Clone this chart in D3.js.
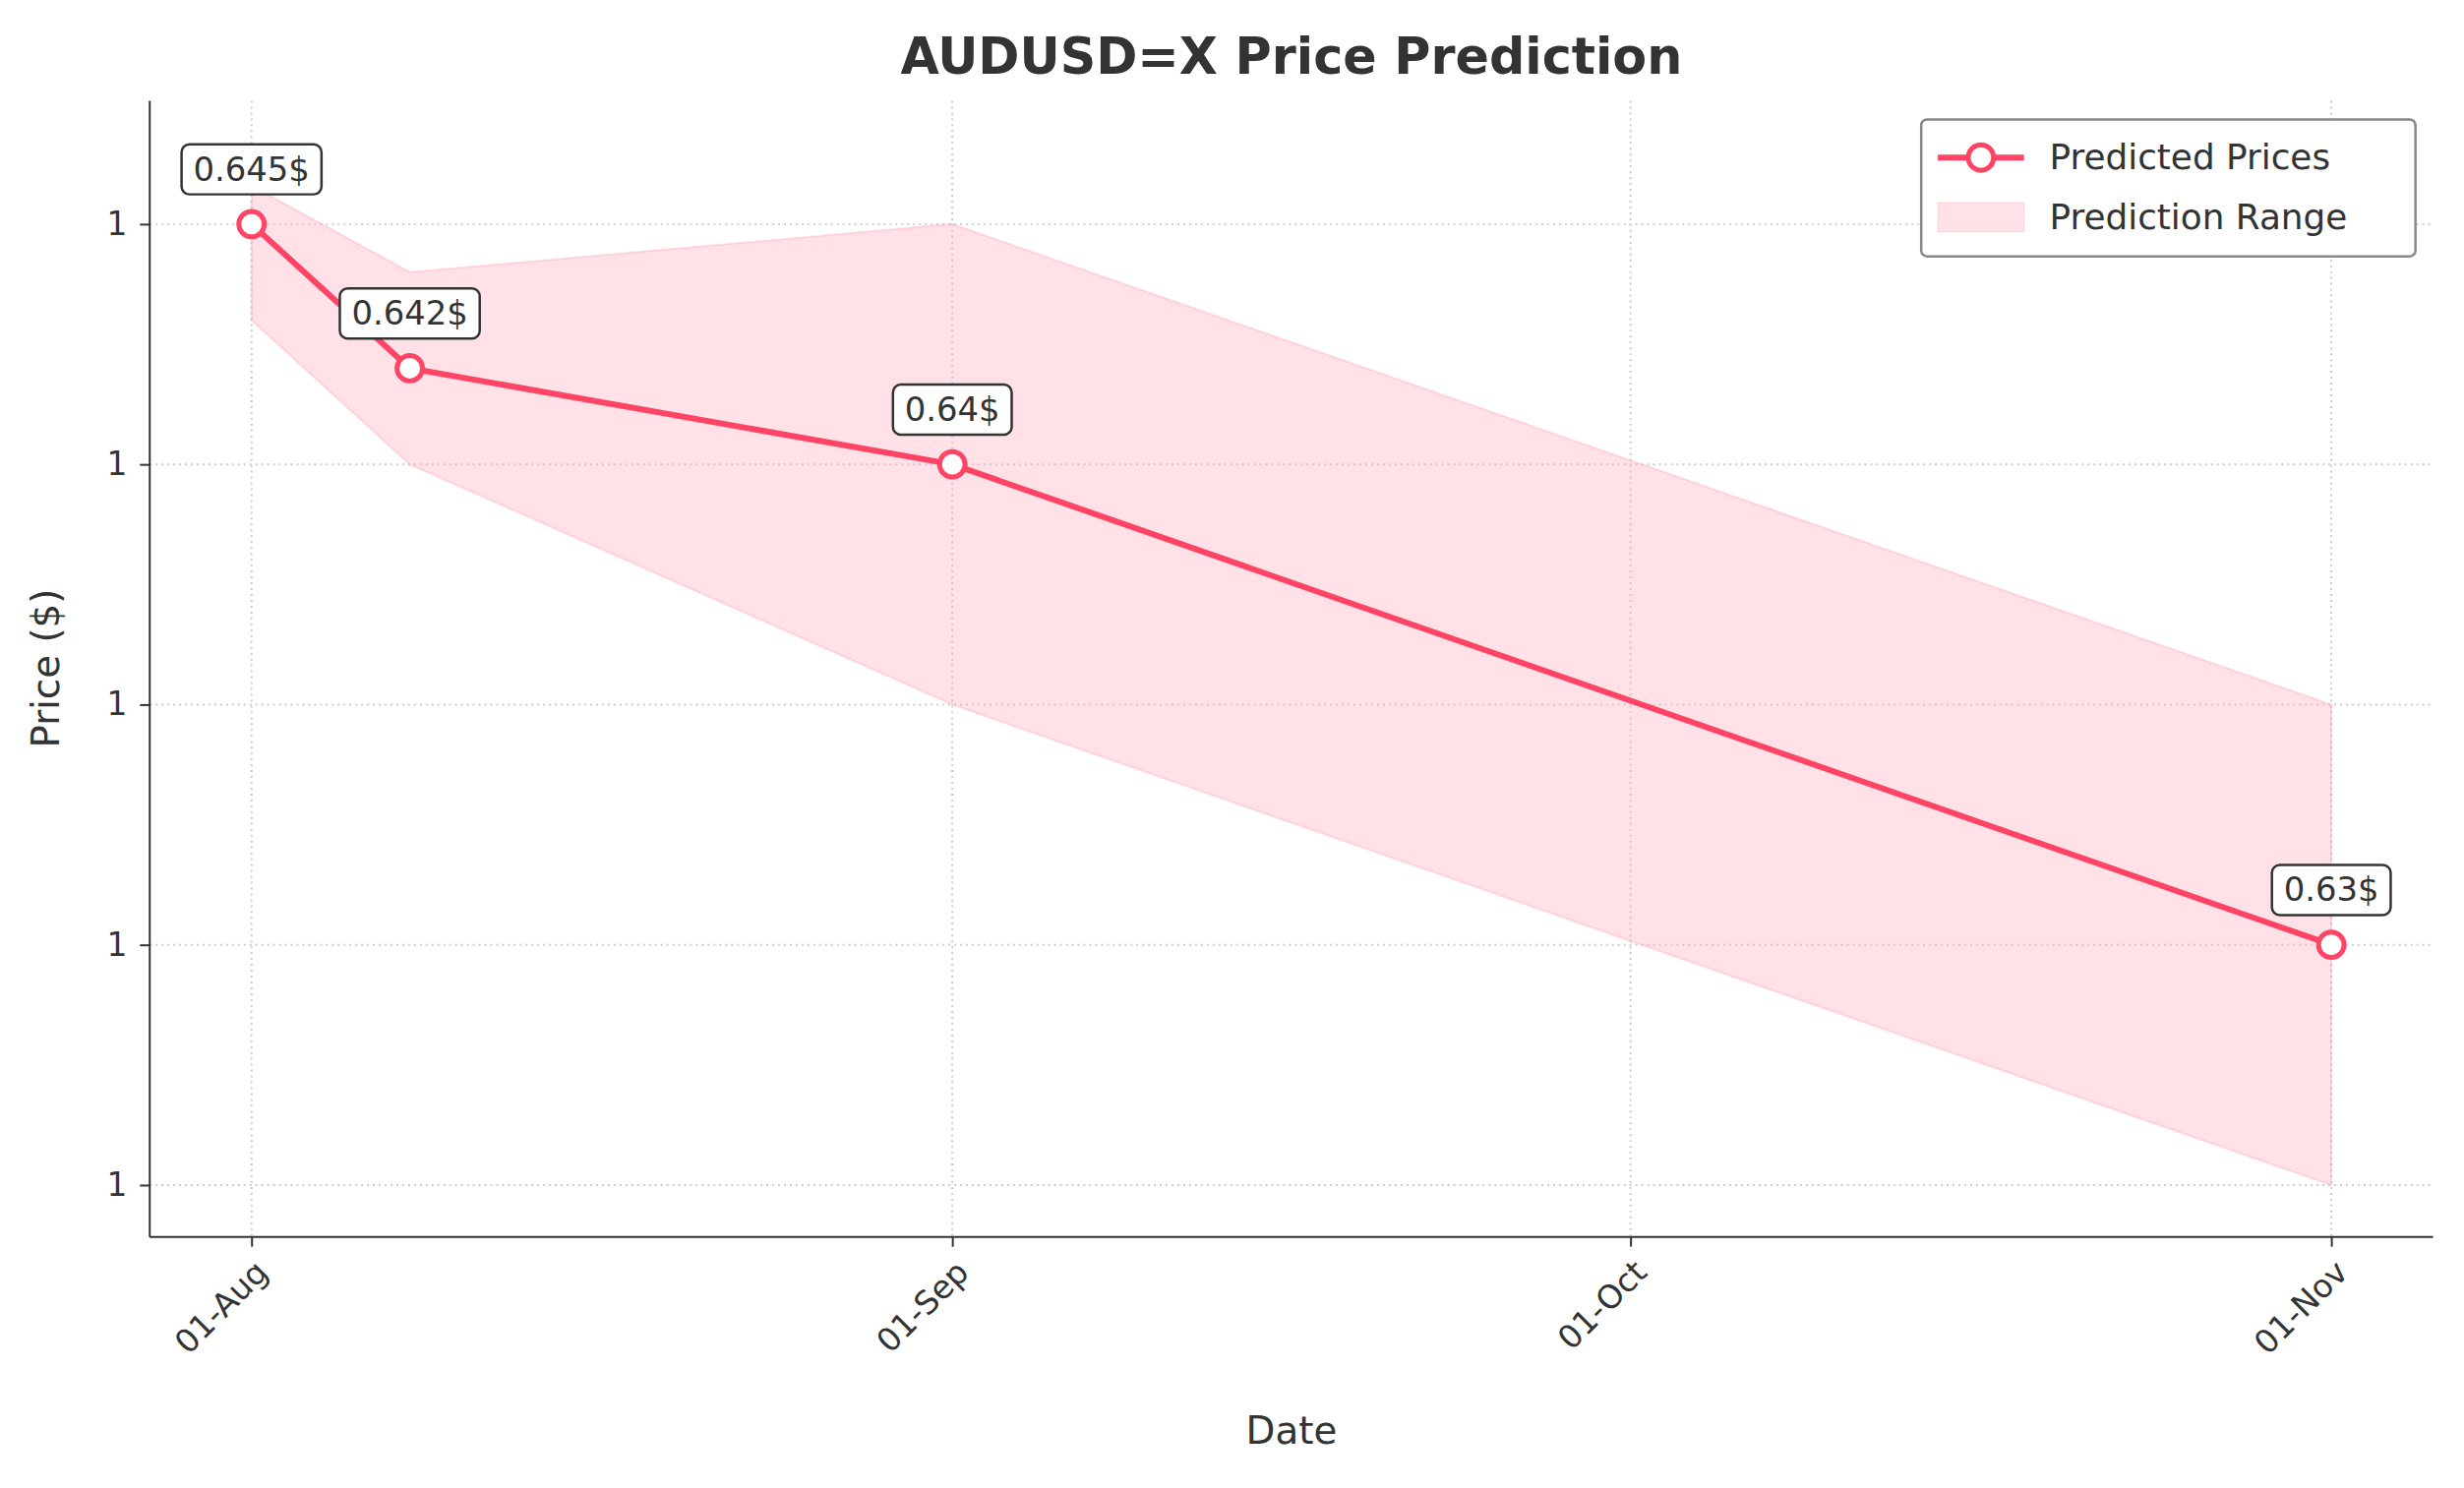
<!DOCTYPE html>
<html><head><meta charset="utf-8">
<script src="https://cdn.jsdelivr.net/npm/d3@7"></script>
<style>body{margin:0;background:#fff}text{font-family:"DejaVu Sans",sans-serif;fill:#333}</style>
</head><body><svg id="c" width="2505" height="1513"></svg>
<script>
const dates=["2024-08-01","2024-08-08","2024-09-01","2024-11-01"];
const predicted=[0.645,0.642,0.640,0.630];
const upper=[0.6458,0.6440,0.6450,0.6350];
const lower=[0.6430,0.6400,0.6350,0.6250];
const xTickDates=["2024-08-01","2024-09-01","2024-10-01","2024-11-01"];
const yTicks=[0.625,0.630,0.635,0.640,0.645];
const labels=["0.645$","0.642$","0.64$","0.63$"];

const P=d3.timeParse("%Y-%m-%d");
const svg=d3.select("#c").append("g").attr("transform","translate(0,3) scale(0.995)");
const L=153,R=2486,T=100,B=1261;
const x=d3.scaleTime().domain([P("2024-08-01"),P("2024-11-01")]).range([257,2382]);
const y=d3.scaleLinear().domain([0.645,0.625]).range([226,1208]);
const col="#ff4466";
const g=svg.append("g");
xTickDates.forEach(d=>g.append("line").attr("x1",x(P(d))).attr("x2",x(P(d))).attr("y1",T).attr("y2",B).attr("stroke","#ccc").attr("stroke-width",2).attr("stroke-dasharray","2,4"));
yTicks.forEach(v=>g.append("line").attr("x1",L).attr("x2",R).attr("y1",y(v)).attr("y2",y(v)).attr("stroke","#ccc").attr("stroke-width",2).attr("stroke-dasharray","2,4"));
const data=dates.map((d,i)=>({d:P(d),p:predicted[i],u:upper[i],l:lower[i]}));
svg.append("path").datum(data).attr("d",d3.area().x(d=>x(d.d)).y0(d=>y(d.l)).y1(d=>y(d.u))).attr("fill","rgba(255,170,185,0.35)").attr("stroke","rgba(255,150,170,0.3)").attr("stroke-width",2);
svg.append("path").datum(data).attr("d",d3.line().x(d=>x(d.d)).y(d=>y(d.p))).attr("fill","none").attr("stroke",col).attr("stroke-width",6);
svg.selectAll("circle.p").data(data).enter().append("circle").attr("cx",d=>x(d.d)).attr("cy",d=>y(d.p)).attr("r",13).attr("fill","#fff").attr("stroke",col).attr("stroke-width",5);
data.forEach((d,i)=>{
  const cx=x(d.d),cy=y(d.p)-56;
  const t=svg.append("text").attr("x",cx).attr("y",cy).attr("text-anchor","middle").attr("dominant-baseline","central").attr("font-size",34).text(labels[i]);
  const bb=t.node().getBBox();
  svg.insert("rect","text:last-child").attr("x",bb.x-12).attr("y",bb.y-6).attr("width",bb.width+24).attr("height",bb.height+12).attr("rx",8).attr("fill","#fff").attr("stroke","#333").attr("stroke-width",2.5);
  t.raise();
});
svg.append("g").attr("transform",`translate(0,${B})`).call(d3.axisBottom(x).tickValues(xTickDates.map(P)).tickFormat(d3.timeFormat("%d-%b")).tickSize(10).tickSizeOuter(0))
 .call(a=>{a.select(".domain").attr("stroke","#333").attr("stroke-width",2).attr("d",`M${L},0H${R}`);a.selectAll(".tick line").attr("stroke","#333").attr("stroke-width",2);
 a.selectAll("text").attr("font-size",33).attr("text-anchor","end").attr("x",10).attr("y",30).attr("dy","0.35em").attr("transform","rotate(-45,10,30)").style("fill","#333");});
svg.append("g").attr("transform",`translate(${L},0)`).call(d3.axisLeft(y).tickValues(yTicks).tickFormat(d3.format(".0f")).tickSize(10).tickSizeOuter(0))
 .call(a=>{a.select(".domain").attr("stroke","#333").attr("stroke-width",2).attr("d",`M0,${T}V${B}`);a.selectAll(".tick line").attr("stroke","#333").attr("stroke-width",2);
 a.selectAll("text").attr("font-size",33).attr("dx","-0.3em").style("fill","#333");});
svg.append("text").attr("x",(L+R)/2).attr("y",72).attr("text-anchor","middle").attr("font-size",51).attr("font-weight","bold").text("AUDUSD=X Price Prediction");
svg.append("text").attr("x",(L+R)/2).attr("y",1472).attr("text-anchor","middle").attr("font-size",39).text("Date");
svg.append("text").attr("transform","translate(60,680) rotate(-90)").attr("text-anchor","middle").attr("font-size",39).text("Price ($)");
const lg=svg.append("g");
lg.append("rect").attr("x",1963).attr("y",119).attr("width",505).attr("height",140).attr("rx",6).attr("fill","#fff").attr("stroke","#888").attr("stroke-width",2.5);
lg.append("line").attr("x1",1980).attr("x2",2068).attr("y1",158).attr("y2",158).attr("stroke",col).attr("stroke-width",6);
lg.append("circle").attr("cx",2024).attr("cy",158).attr("r",13).attr("fill","#fff").attr("stroke",col).attr("stroke-width",5);
lg.append("rect").attr("x",1980).attr("y",204).attr("width",88).attr("height",30).attr("fill","rgba(255,170,185,0.35)").attr("stroke","rgba(255,150,170,0.3)");
lg.append("text").attr("x",2094).attr("y",170).attr("font-size",36).text("Predicted Prices");
lg.append("text").attr("x",2094).attr("y",231).attr("font-size",36).text("Prediction Range");
</script></body></html>
